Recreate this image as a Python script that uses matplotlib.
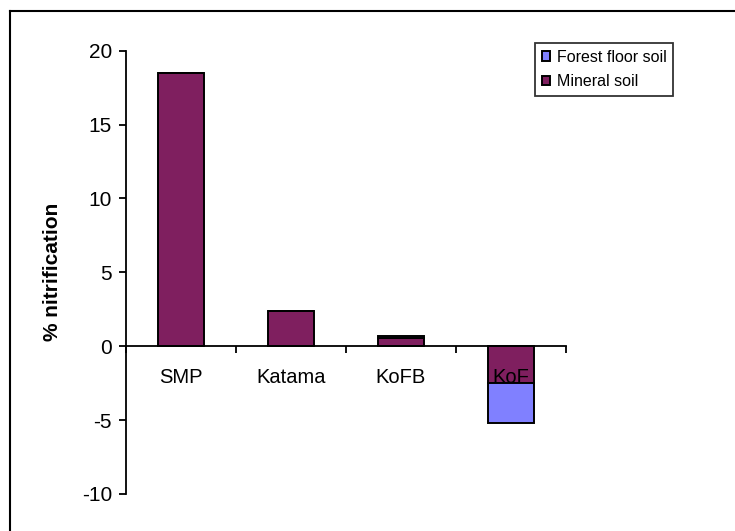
import numpy as np
import matplotlib.pyplot as plt
from matplotlib.lines import Line2D

plt.rcParams['font.family'] = ['Liberation Sans', 'DejaVu Sans']
plt.rcParams['axes.unicode_minus'] = False

sites = ["SMP", "Katama", "KoFB", "KoF"]
mineral_soil = [18.5, 2.4, 0.55, -2.5]
forest_floor_soil = [0.0, 0.0, 0.12, -2.7]

mineral_color = '#7F1F5F'
forest_color = '#8080FF'

fig = plt.figure(figsize=(7.35, 5.31), dpi=100)
ax = fig.add_axes([0.1714, 0.0697, 0.5986, 0.8348])
ax.set_axisbelow(False)  # site names stay on top of the bars

x = np.arange(len(sites))
bars_min = ax.bar(x, mineral_soil, width=0.41, color=mineral_color,
                  edgecolor='black', linewidth=1.4, zorder=1)
bars_ff = ax.bar(x, forest_floor_soil, width=0.41, bottom=mineral_soil,
                 color=forest_color, edgecolor='black', linewidth=1.4, zorder=1)

ax.set_xlim(-0.5, 3.5)
ax.set_ylim(-10, 20)
ax.set_yticks([-10, -5, 0, 5, 10, 15, 20])
ax.tick_params(axis='y', direction='out', length=5, width=1.3, pad=5, labelsize=15)

# x axis runs along zero, ticks between categories, names sit below
ax.spines['bottom'].set_position(('data', 0))
ax.spines['top'].set_visible(False)
ax.spines['right'].set_visible(False)
ax.spines['left'].set_linewidth(1.3)
ax.spines['bottom'].set_linewidth(1.3)
ax.set_xticks(np.arange(-0.5, 4, 1.0))
ax.set_xticklabels([])
ax.set_xticks(x, minor=True)
ax.set_xticklabels(sites, minor=True)
ax.tick_params(axis='x', which='major', direction='out', length=5, width=1.3)
ax.tick_params(axis='x', which='minor', length=0, pad=16, labelsize=14.5)

ax.set_ylabel("% nitrification", fontsize=15, fontweight='bold')
ax.yaxis.set_label_coords(-0.145, 0.5)

leg = fig.legend([bars_ff, bars_min], ["Forest floor soil", "Mineral soil"],
                 loc='upper right', bbox_to_anchor=(0.9156, 0.919),
                 fontsize=11.5, frameon=True, fancybox=False, shadow=False,
                 handlelength=0.5, handleheight=0.5, handletextpad=0.4,
                 borderpad=0.42, labelspacing=0.6, borderaxespad=0)
leg.get_frame().set_edgecolor('black')
leg.get_frame().set_linewidth(1.3)

# outer chart border
fig.add_artist(Line2D([10 / 735, 10 / 735], [0, 1 - 11 / 531], color='black', linewidth=1.5))
fig.add_artist(Line2D([10 / 735, 1], [1 - 11 / 531, 1 - 11 / 531], color='black', linewidth=1.5))

plt.savefig("out.png", dpi=100)
